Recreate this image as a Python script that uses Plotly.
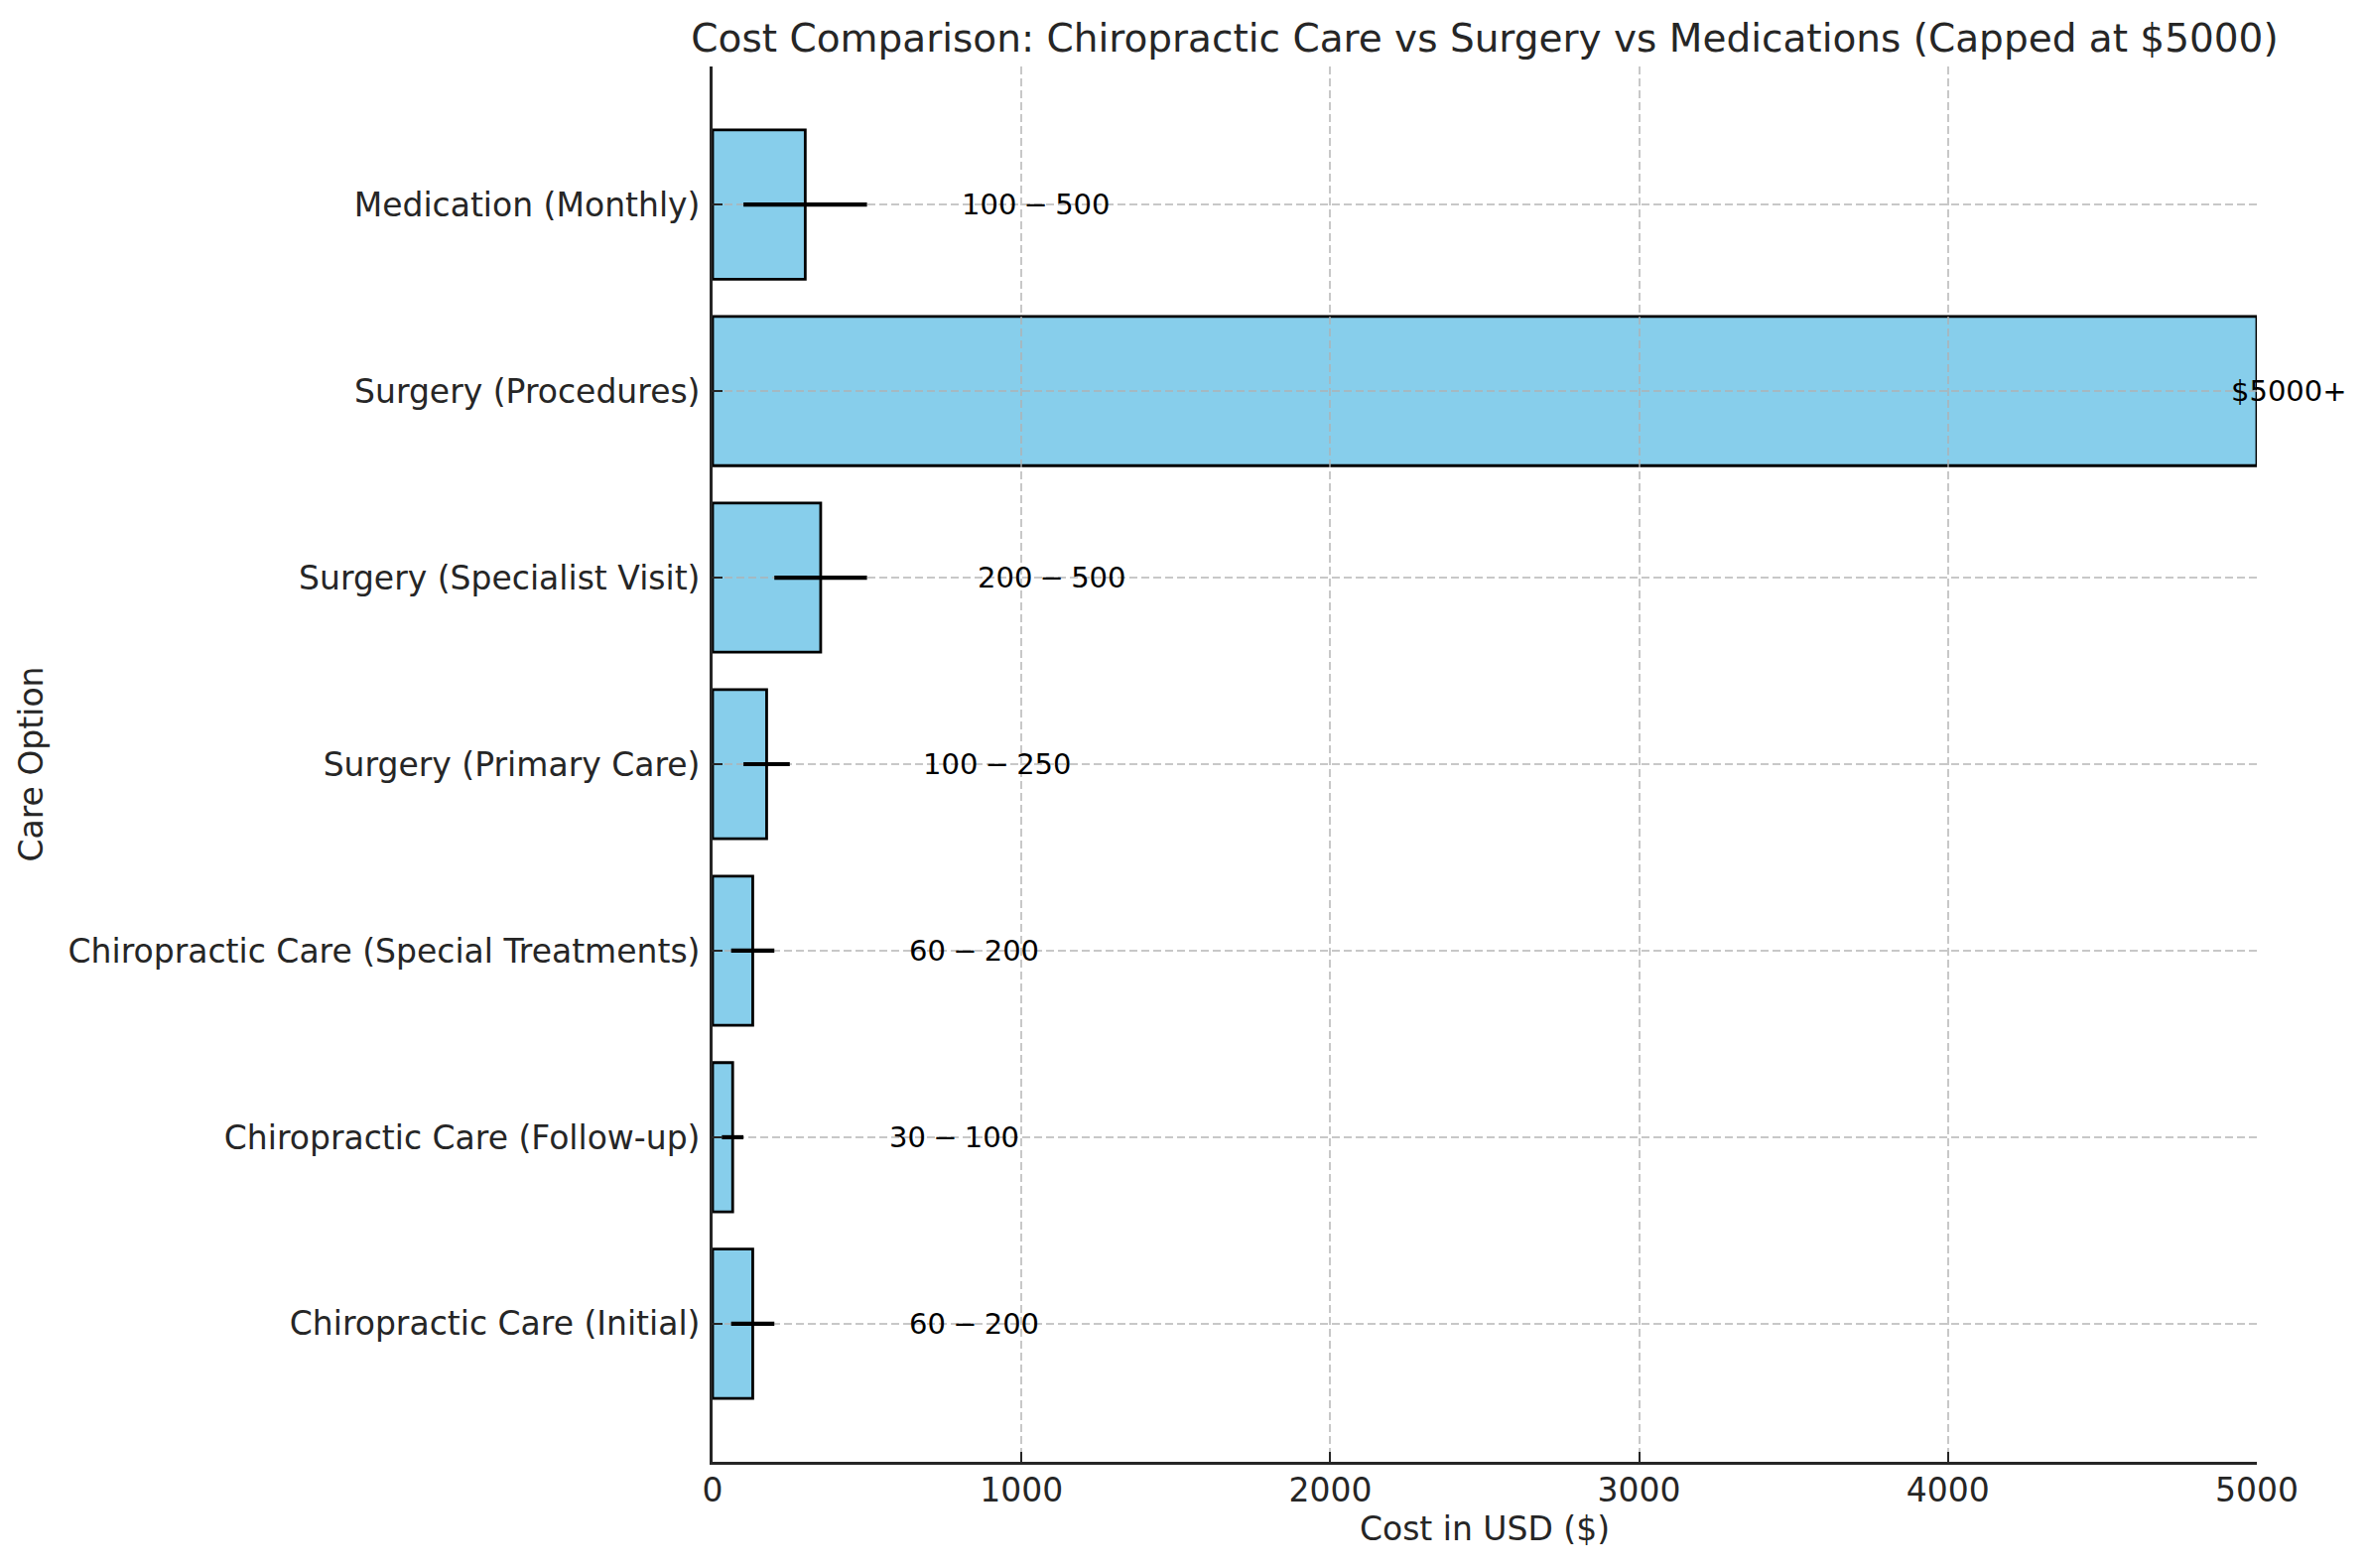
import plotly.graph_objects as go

# ---- data ----
categories = [
    "Chiropractic Care (Initial)",
    "Chiropractic Care (Follow-up)",
    "Chiropractic Care (Special Treatments)",
    "Surgery (Primary Care)",
    "Surgery (Specialist Visit)",
    "Surgery (Procedures)",
    "Medication (Monthly)",
]
low_cost = [60, 30, 60, 100, 200, 5000, 100]
high_cost = [200, 100, 200, 250, 500, 5000, 500]
range_labels = ["60\u2005\u2212\u2005200", "30\u2005\u2212\u2005100", "60\u2005\u2212\u2005200",
                "100\u2005\u2212\u2005250", "200\u2005\u2212\u2005500", "$5000+",
                "100\u2005\u2212\u2005500"]
x_ticks = [0, 1000, 2000, 3000, 4000, 5000]
cap = 5000

mid_cost = [(lo + hi) / 2 for lo, hi in zip(low_cost, high_cost)]
half_range = [(hi - lo) / 2 for lo, hi in zip(low_cost, high_cost)]

FONT = "DejaVu Sans"
DARK = "#262626"
W, H = 2386, 1580
OFF = 8  # page body margin
L, R, T, B = 718 - OFF, 112 + OFF, 67 - OFF, 107 + OFF

fig = go.Figure()

# bars on the lower subplot
fig.add_trace(go.Bar(
    x=mid_cost, y=categories, orientation="h",
    marker=dict(color="#87CEEB", line=dict(color="black", width=2.8)),
    width=0.8, xaxis="x", yaxis="y", showlegend=False,
))

# error bars on the upper subplot (so grid sits between bars and error bars)
fig.add_trace(go.Scatter(
    x=mid_cost, y=categories, mode="markers",
    marker=dict(size=1, color="rgba(0,0,0,0)"),
    error_x=dict(type="data", array=half_range, symmetric=True,
                 color="black", thickness=4.2, width=0),
    xaxis="x2", yaxis="y2", showlegend=False,
))

y_range = [-0.74, 6.74]
x_range = [0, cap]

common_x = dict(range=x_range, domain=[0, 1], tickvals=x_ticks, zeroline=False)
common_y = dict(range=y_range, domain=[0, 1], type="category",
                categoryorder="array", categoryarray=categories, zeroline=False)

fig.update_layout(
    width=W, height=H,
    margin=dict(l=L, r=R, t=T, b=B, pad=0),
    paper_bgcolor="white",
    plot_bgcolor="rgba(0,0,0,0)",
    font=dict(family=FONT, color=DARK, size=33),
    bargap=0.2,
    title=dict(
        text="Cost Comparison: Chiropractic Care vs Surgery vs Medications (Capped at $5000)",
        x=0.5, xref="paper", xanchor="center",
        y=1 - (38 - OFF) / H, yref="container", yanchor="middle",
        font=dict(size=39, color=DARK, family=FONT),
    ),
    xaxis=dict(**common_x, anchor="y", showgrid=False, showline=False,
               showticklabels=False, ticks=""),
    yaxis=dict(**common_y, anchor="x", showgrid=False, showline=False,
               showticklabels=False, ticks=""),
    xaxis2=dict(**common_x, anchor="y2", side="bottom",
                showgrid=True, gridcolor="rgba(176,176,176,0.7)", gridwidth=2.2,
                griddash="8px,4px",
                showline=True, linecolor=DARK, linewidth=2.8,
                ticks="inside", ticklen=10, tickwidth=2.2, tickcolor=DARK,
                ticklabelstandoff=-3,
                tickfont=dict(size=33, color=DARK, family=FONT),
                title=dict(text="Cost in USD ($)", standoff=10,
                           font=dict(size=33, color=DARK, family=FONT)),
                automargin=False, layer="above traces"),
    yaxis2=dict(**common_y, anchor="x2", side="left",
                showgrid=True, gridcolor="rgba(176,176,176,0.7)", gridwidth=2.2,
                griddash="8px,4px",
                showline=True, linecolor=DARK, linewidth=2.8,
                ticks="inside", ticklen=10, tickwidth=2.2, tickcolor=DARK,
                ticklabelstandoff=3,
                tickfont=dict(size=33, color=DARK, family=FONT),
                title=dict(text="Care Option", standoff=16,
                           font=dict(size=33, color=DARK, family=FONT)),
                automargin=False, layer="above traces"),
)

# range labels
for cat, m, lab in zip(categories, mid_cost, range_labels):
    lx = min(m + 500, 4910)
    fig.add_annotation(
        x=lx, y=cat, xref="x2", yref="y2", text=lab, showarrow=False,
        xanchor="left", yanchor="middle",
        font=dict(size=29, color="black", family=FONT),
    )

fig.write_html("out.html")
